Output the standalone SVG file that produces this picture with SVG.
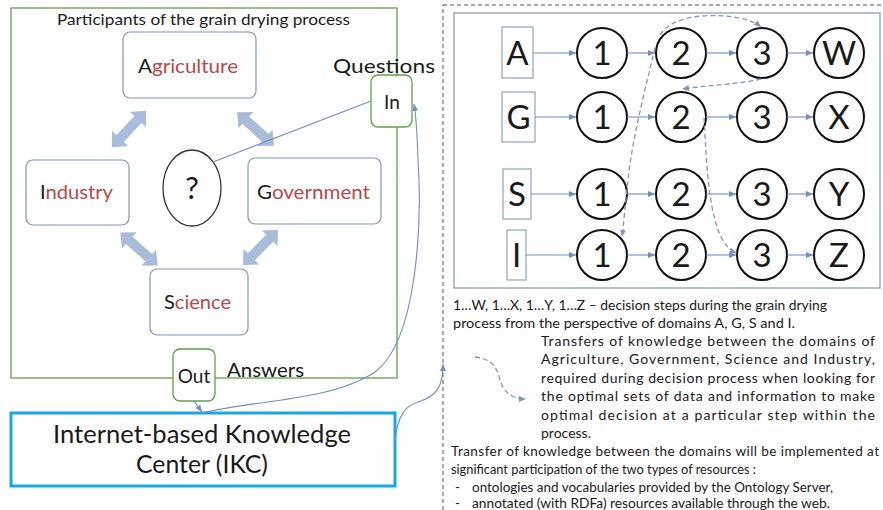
<svg xmlns="http://www.w3.org/2000/svg" xmlns:xlink="http://www.w3.org/1999/xlink" width="883" height="510" viewBox="0 0 883 510">
<style>
text{font-family:Lato,"Liberation Sans","Open Sans",sans-serif;fill:#1a1a1a}
.box{fill:#fff;stroke:#7f95b8;stroke-width:1.2}
.gbox{fill:#fff;stroke:#62a04c;stroke-width:1.3}
.red{fill:#b8484a}
.lbl{font-size:19px}
.step{fill:#fff;stroke:#111;stroke-width:2}
.lt{fill:#fff;stroke:#8ea3c0;stroke-width:1.2}
.big{font-size:33px;text-anchor:middle}
.con{fill:none;stroke:#6f8fc2;stroke-width:1.1}
.dash{fill:none;stroke:#7f97bd;stroke-width:1.3;stroke-dasharray:5 3}
.txt{font-size:14px}
.txs{font-size:13.5px}
.dbl{fill:#a9bcd9}
</style>
<defs>
<marker id="ah" markerWidth="8" markerHeight="8" refX="7" refY="4" orient="auto" markerUnits="userSpaceOnUse">
<path d="M0,1 L7,4 L0,7 Z" fill="#6f8fc2"/>
</marker>
<marker id="ahd" markerWidth="8" markerHeight="8" refX="7" refY="4" orient="auto" markerUnits="userSpaceOnUse">
<path d="M0,1 L7,4 L0,7 Z" fill="#7f97bd"/>
</marker>
<path id="dblarrow" d="M-25,0 L-13,-11 L-13,-5 L13,-5 L13,-11 L25,0 L13,11 L13,5 L-13,5 L-13,11 Z"/>
</defs>
<rect width="883" height="510" fill="#fff"/>

<g id="participants">
<rect x="11" y="8" width="386" height="370" fill="none" stroke="#62a04c" stroke-width="1.3"/>
<text x="57" y="25" font-size="16" textLength="293" lengthAdjust="spacingAndGlyphs">Participants of the grain drying process</text>
</g>

<g id="agriculture">
<rect class="box" x="123" y="32" width="133" height="66" rx="7"/>
<text class="lbl" x="138" y="73" textLength="100" lengthAdjust="spacingAndGlyphs">A<tspan class="red">griculture</tspan></text>
</g>
<g id="industry">
<rect class="box" x="26" y="160" width="103" height="65" rx="7"/>
<text class="lbl" x="40" y="199" textLength="73" lengthAdjust="spacingAndGlyphs">I<tspan class="red">ndustry</tspan></text>
</g>
<g id="government">
<rect class="box" x="248" y="158" width="133" height="66" rx="7"/>
<text class="lbl" x="257" y="199" textLength="113" lengthAdjust="spacingAndGlyphs">G<tspan class="red">overnment</tspan></text>
</g>
<g id="science">
<rect class="box" x="150" y="269" width="98" height="66" rx="7"/>
<text class="lbl" x="164" y="309" textLength="67" lengthAdjust="spacingAndGlyphs">S<tspan class="red">cience</tspan></text>
</g>
<g id="question">
<ellipse cx="192" cy="188" rx="29" ry="38" fill="#fff" stroke="#333" stroke-width="1.3"/>
<text x="192" y="199" font-size="31" text-anchor="middle">?</text>
</g>

<g id="block-arrows" class="dbl">
<use xlink:href="#dblarrow" transform="translate(129,129) rotate(133.4)"/>
<use xlink:href="#dblarrow" transform="translate(255.5,129) rotate(42.4)"/>
<use xlink:href="#dblarrow" transform="translate(139,249) rotate(41.6)"/>
<use xlink:href="#dblarrow" transform="translate(260.5,247.5) rotate(135)"/>
</g>

<g id="in">
<rect class="gbox" x="371" y="75" width="41" height="52" rx="7"/>
<text x="392" y="109" font-size="19" text-anchor="middle">In</text>
<text x="333" y="73" font-size="19" textLength="102" lengthAdjust="spacingAndGlyphs">Questions</text>
</g>
<g id="out">
<rect class="gbox" x="173" y="349" width="42" height="52" rx="7"/>
<text x="194" y="383" font-size="19" text-anchor="middle">Out</text>
<text x="227" y="377" font-size="19" textLength="77" lengthAdjust="spacingAndGlyphs">Answers</text>
</g>
<g id="ikc">
<rect x="11" y="413" width="384" height="73" fill="#fff" stroke="#1aa6de" stroke-width="3"/>
<text x="53" y="443" font-size="25" textLength="298" lengthAdjust="spacingAndGlyphs">Internet-based Knowledge</text>
<text x="136" y="473" font-size="25" textLength="132" lengthAdjust="spacingAndGlyphs">Center (IKC)</text>
</g>

<g id="decision-panel">
<rect x="443" y="5" width="450" height="520" fill="none" stroke="#555" stroke-width="1" stroke-dasharray="4 3"/>
<rect x="454" y="13" width="426" height="275" fill="#fff" stroke="#8494ad" stroke-width="1.2"/>
</g>

<g id="row-A">
<rect class="lt" x="502" y="27" width="31" height="51"/>
<text class="big" x="517.5" y="65">A</text>
<circle class="step" cx="602" cy="53" r="25"/><text class="big" x="602" y="65">1</text>
<circle class="step" cx="681" cy="53" r="25"/><text class="big" x="681" y="65">2</text>
<circle class="step" cx="762" cy="53" r="25"/><text class="big" x="762" y="65">3</text>
<circle class="step" cx="839" cy="53" r="25"/><text class="big" x="839" y="65">W</text>
</g>
<g id="row-G">
<rect class="lt" x="502" y="92" width="33" height="50"/>
<text class="big" x="518.5" y="129">G</text>
<circle class="step" cx="602" cy="117" r="25"/><text class="big" x="602" y="129">1</text>
<circle class="step" cx="681" cy="117" r="25"/><text class="big" x="681" y="129">2</text>
<circle class="step" cx="762" cy="117" r="25"/><text class="big" x="762" y="129">3</text>
<circle class="step" cx="839" cy="117" r="25"/><text class="big" x="839" y="129">X</text>
</g>
<g id="row-S">
<rect class="lt" x="503" y="169" width="28" height="50"/>
<text class="big" x="517" y="206">S</text>
<circle class="step" cx="602" cy="194" r="25"/><text class="big" x="602" y="206">1</text>
<circle class="step" cx="681" cy="194" r="25"/><text class="big" x="681" y="206">2</text>
<circle class="step" cx="762" cy="194" r="25"/><text class="big" x="762" y="206">3</text>
<circle class="step" cx="839" cy="194" r="25"/><text class="big" x="839" y="206">Y</text>
</g>
<g id="row-I">
<rect class="lt" x="507" y="230" width="19" height="50"/>
<text class="big" x="516.5" y="267">I</text>
<circle class="step" cx="602" cy="255" r="25"/><text class="big" x="602" y="267">1</text>
<circle class="step" cx="681" cy="255" r="25"/><text class="big" x="681" y="267">2</text>
<circle class="step" cx="762" cy="255" r="25"/><text class="big" x="762" y="267">3</text>
<circle class="step" cx="839" cy="255" r="25"/><text class="big" x="839" y="267">Z</text>
</g>

<g id="connectors">
<path class="con" d="M371,101 L213,162"/>
<path class="con" d="M194,401 L202,412" marker-end="url(#ah)"/>
<path class="con" d="M203,413 C250,400 330,402 375,372 C418,340 422,220 418,160 C417,130 416,115 414,104" marker-end="url(#ah)"/>
<path class="con" d="M395,440 C398,415 405,406 418,402 C438,396 443,385 443,364" marker-end="url(#ah)"/>

<path class="con" d="M533,53 L576,53" marker-end="url(#ah)"/>
<path class="con" d="M627,53 L655,53" marker-end="url(#ah)"/>
<path class="con" d="M706,53 L736,53" marker-end="url(#ah)"/>
<path class="con" d="M787,53 L813,53" marker-end="url(#ah)"/>

<path class="con" d="M535,117 L576,117" marker-end="url(#ah)"/>
<path class="con" d="M627,117 L655,117" marker-end="url(#ah)"/>
<path class="con" d="M706,117 L736,117" marker-end="url(#ah)"/>
<path class="con" d="M787,117 L813,117" marker-end="url(#ah)"/>

<path class="con" d="M531,194 L576,194" marker-end="url(#ah)"/>
<path class="con" d="M627,194 L655,194" marker-end="url(#ah)"/>
<path class="con" d="M706,194 L736,194" marker-end="url(#ah)"/>
<path class="con" d="M787,194 L813,194" marker-end="url(#ah)"/>

<path class="con" d="M526,255 L576,255" marker-end="url(#ah)"/>
<path class="con" d="M627,255 L655,255" marker-end="url(#ah)"/>
<path class="con" d="M706,255 L736,255" marker-end="url(#ah)"/>
<path class="con" d="M787,255 L813,255" marker-end="url(#ah)"/>

<path class="dash" d="M655,48 C645,90 632,140 628,180 C625,205 624,222 622,237" marker-end="url(#ahd)"/>
<path class="dash" d="M660,35 C670,18 700,14 725,16 C745,18 755,22 761,27" marker-end="url(#ahd)"/>
<path class="dash" d="M761,79 C740,84 710,85 682,89" marker-end="url(#ahd)"/>
<path class="dash" d="M704,118 C706,150 707,190 715,220 C720,240 728,250 737,253" marker-end="url(#ahd)"/>
<path class="dash" d="M475,357 C493,359 497,368 500,380 C504,394 514,399 526,399" marker-end="url(#ahd)"/>
</g>

<g id="legend-text">
<text class="txt" x="453" y="310" textLength="374" lengthAdjust="spacingAndGlyphs">1…W, 1…X, 1…Y, 1…Z – decision steps during the grain drying</text>
<text class="txt" x="453" y="328" textLength="342" lengthAdjust="spacingAndGlyphs">process from the perspective of domains A, G, S and I.</text>
<text class="txt" x="541" y="346" textLength="334" lengthAdjust="spacing">Transfers of knowledge between the domains of</text>
<text class="txt" x="541" y="364" textLength="334" lengthAdjust="spacing">Agriculture, Government, Science and Industry,</text>
<text class="txt" x="541" y="383" textLength="334" lengthAdjust="spacing">required during  decision process when looking for</text>
<text class="txt" x="541" y="401" textLength="334" lengthAdjust="spacing">the optimal sets of data and information to make</text>
<text class="txt" x="541" y="420" textLength="334" lengthAdjust="spacing">optimal decision at a particular step within the</text>
<text class="txt" x="541" y="438">process.</text>
<text class="txs" x="451" y="456" textLength="428" lengthAdjust="spacing">Transfer of knowledge between the domains will be implemented at</text>
<text class="txs" x="451" y="474" textLength="305" lengthAdjust="spacingAndGlyphs">significant participation of the two types of resources :</text>
<text class="txs" x="455" y="492">-</text>
<text class="txs" x="472" y="492" textLength="361" lengthAdjust="spacingAndGlyphs">ontologies and vocabularies provided by the Ontology Server,</text>
<text class="txs" x="455" y="508">-</text>
<text class="txs" x="472" y="508" textLength="358" lengthAdjust="spacingAndGlyphs">annotated (with RDFa) resources available through the web.</text>
</g>
</svg>
